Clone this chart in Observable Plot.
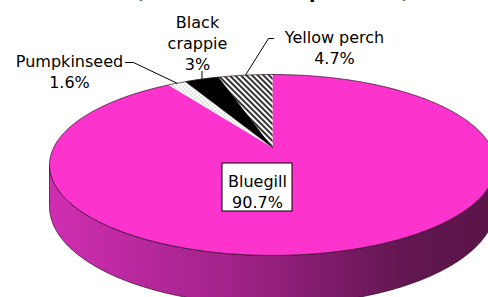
<!DOCTYPE html>
<html><head><meta charset="utf-8">
<script src="https://cdn.jsdelivr.net/npm/d3@7"></script>
<script src="https://cdn.jsdelivr.net/npm/@observablehq/plot@0.6"></script>
<style>
body{margin:0;background:#fff;}
#chart{position:relative;width:488px;height:297px;overflow:hidden;}
</style>
</head><body><div id="chart"></div>
<script>
// ---- data ----
const species = ["Bluegill", "Pumpkinseed", "Black crappie", "Yellow perch"];
const percents = [90.7, 1.6, 3, 4.7];
const percentLabels = ["90.7%", "1.6%", "3%", "4.7%"];
const titleText = "(Number of fish per hour)";

// ---- styling / layout ----
const fills = ["#fc33cc", "url(#dots)", "#000000", "url(#hatch)"];
const cx = 272, cy = 147, A = 218.8, B = 87.1, q = 0.193, H = 40; // 3-D projection
const labelText = species.map((s, i) => {
  if (s === "Black crappie") return "Black\ncrappie\n" + percentLabels[i];
  return s + "\n" + percentLabels[i];
});
const labelLayout = [
  {tx: 257, ty: 171.6, box: [222, 163, 292, 211], lead: null},
  {tx: 69, ty: 51.6, lead: [[125, 62], [133, 62]]},
  {tx: 197, ty: 12.6, lead: [["rim", 71]]},
  {tx: 334, ty: 27.6, lead: [[273, 38], [268, 38]]}
];

// ---- geometry from values ----
const rad = d => d * Math.PI / 180;
function proj(deg, drop = 0) {
  const X = Math.sin(rad(deg)), Z = Math.cos(rad(deg));
  const den = 1 + q * Z;
  return {x: cx + A * X / den, y: cy - B * Z / den + drop / den};
}
const total = d3.sum(percents);
let acc = 0;
const slices = percents.map((p, i) => {
  const a0 = acc / total * 360; acc += p; const a1 = acc / total * 360;
  const pts = [{x: cx, y: cy}];
  const n = Math.max(2, Math.ceil((a1 - a0) / 0.5));
  for (let k = 0; k <= n; k++) pts.push(proj(a0 + (a1 - a0) * k / n));
  pts.push({x: cx, y: cy});
  return {name: species[i], a0, a1, mid: (a0 + a1) / 2, pts};
});

// side (front visible part)
const aR = Math.acos(-q) * 180 / Math.PI, aL = 360 - aR;
const side = [];
for (let d = aR; d <= aL + 1e-9; d += 0.5) side.push(proj(d));
for (let d = aL; d >= aR - 1e-9; d -= 0.5) side.push(proj(d, H));
side.push(side[0]);

const rim = [];
for (let d = 0; d <= 360; d += 0.5) rim.push(proj(d));

// leaders
const leaders = [];
slices.forEach((s, i) => {
  const L = labelLayout[i].lead;
  if (!L) return;
  const end = proj(s.mid);
  L.forEach(([x, y]) => leaders.push({id: i, x: x === "rim" ? end.x : x, y}));
  leaders.push({id: i, x: end.x, y: end.y});
});

const labels = species.map((s, i) => ({text: labelText[i], x: labelLayout[i].tx, y: labelLayout[i].ty}));
const boxes = labelLayout.filter(d => d.box).map(d => ({x1: d.box[0], y1: d.box[1], x2: d.box[2], y2: d.box[3]}));

const marks = [
  Plot.line(side, {x: "x", y: "y", fill: "url(#sideGrad)", stroke: "#2a0a22", strokeWidth: 0.7}),
  ...slices.map((s, i) => Plot.line(s.pts, {x: "x", y: "y", fill: fills[i], stroke: i === 2 ? "#000" : "none", strokeWidth: 0.5})),
  Plot.line(rim, {x: "x", y: "y", stroke: "#2a0a22", strokeWidth: 0.7}),
  Plot.line(leaders, {x: "x", y: "y", z: "id", stroke: "#000", strokeWidth: 1}),
  Plot.rect(boxes, {x1: "x1", x2: "x2", y1: "y1", y2: "y2", fill: "#fff", stroke: "#000", strokeWidth: 1}),
  Plot.text(labels, {x: "x", y: "y", text: "text", lineAnchor: "top", lineHeight: 1.3125, fontSize: 16, fill: "#000"}),
  Plot.text([titleText], {frameAnchor: "top", dx: 28, dy: -16, lineAnchor: "top", fontSize: 19, fontWeight: "bold", fill: "#000"})
];

const svg = Plot.plot({
  width: 488, height: 297, margin: 0,
  style: {fontFamily: "DejaVu Sans", background: "#fff"},
  x: {domain: [0, 488], range: [0, 488], axis: null},
  y: {domain: [0, 297], range: [0, 297], axis: null},
  marks
});

const defs = d3.select(svg).insert("defs", ":first-child");
const hatch = defs.append("pattern").attr("id", "hatch").attr("patternUnits", "userSpaceOnUse")
  .attr("width", 4).attr("height", 4).attr("patternTransform", "rotate(-45)");
hatch.append("rect").attr("width", 4).attr("height", 4).attr("fill", "#fff");
hatch.append("rect").attr("width", 2).attr("height", 4).attr("fill", "#333");
const dots = defs.append("pattern").attr("id", "dots").attr("patternUnits", "userSpaceOnUse")
  .attr("width", 4).attr("height", 4);
dots.append("rect").attr("width", 4).attr("height", 4).attr("fill", "#fff");
dots.append("rect").attr("x", 0).attr("y", 0).attr("width", 1).attr("height", 1).attr("fill", "#999");
dots.append("rect").attr("x", 2).attr("y", 2).attr("width", 1).attr("height", 1).attr("fill", "#999");
const g = defs.append("linearGradient").attr("id", "sideGrad").attr("x1", 0).attr("x2", 1).attr("y1", 0).attr("y2", 0);
[[0, "#d02eb2"], [0.45, "#9c2184"], [0.8, "#611650"], [1, "#5a1447"]].forEach(([o, c]) =>
  g.append("stop").attr("offset", o).attr("stop-color", c));

document.getElementById("chart").appendChild(svg);
</script>
</body></html>
